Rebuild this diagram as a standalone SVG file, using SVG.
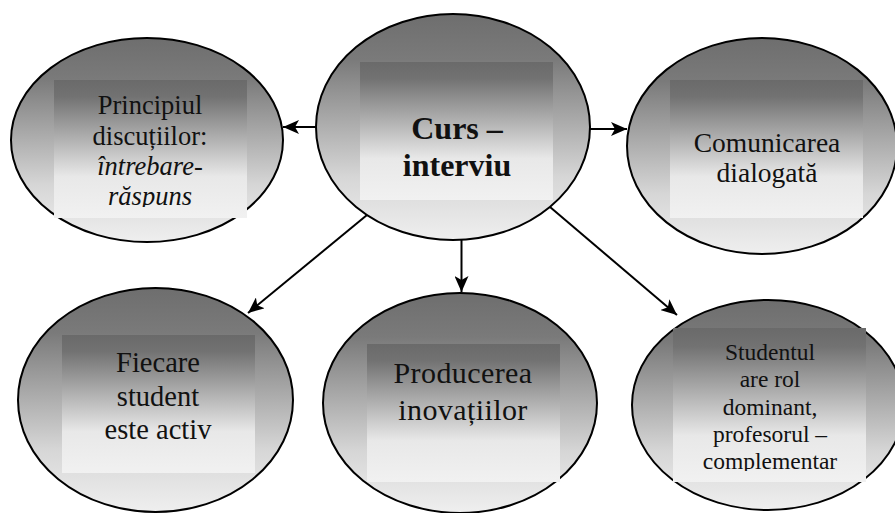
<svg xmlns="http://www.w3.org/2000/svg" width="895" height="513" viewBox="0 0 895 513">
<defs>
<linearGradient id="ge" x1="0" y1="0" x2="0" y2="1">
<stop offset="0" stop-color="#6e6e6e"/>
<stop offset="0.2" stop-color="#7a7a7a"/>
<stop offset="0.72" stop-color="#d6d6d6"/>
<stop offset="1" stop-color="#efefef"/>
</linearGradient>
<linearGradient id="gr" x1="0" y1="0" x2="0" y2="1">
<stop offset="0" stop-color="#6a6a6a"/>
<stop offset="0.12" stop-color="#727272"/>
<stop offset="0.7" stop-color="#e8e8e8"/>
<stop offset="1" stop-color="#f1f1f1"/>
</linearGradient>
<marker id="ah" markerUnits="userSpaceOnUse" markerWidth="18" markerHeight="14" refX="16" refY="7" orient="auto">
<path d="M0,0 L16,7 L0,14 L4,7 Z" fill="#000"/>
</marker>
<clipPath id="c1"><rect x="54" y="80" width="193" height="127"/></clipPath>
<clipPath id="c6"><rect x="673" y="328" width="193" height="143"/></clipPath>
</defs>
<style>
.el{fill:url(#ge);stroke:#000;stroke-width:2}
.bx{fill:url(#gr)}
text{fill:#111;text-anchor:middle}
.con{stroke:#000;stroke-width:2;fill:none;marker-end:url(#ah)}
</style>
<rect width="895" height="513" fill="#fff"/>
<g id="n1" font-family="Liberation Serif, serif">
<ellipse class="el" cx="147" cy="140" rx="136" ry="102"/>
<rect class="bx" x="54" y="80" width="193" height="138"/>
<g clip-path="url(#c1)" font-size="26.5">
<text x="150" y="114">Principiul</text>
<text x="150" y="145">discuțiilor:</text>
<text x="150" y="175" font-style="italic">întrebare-</text>
<text x="150" y="205" font-style="italic">răspuns</text>
</g>
</g>
<g id="n0" font-family="Liberation Serif, serif">
<ellipse class="el" cx="453" cy="127" rx="137" ry="113"/>
<rect class="bx" x="360" y="62" width="193" height="138"/>
<text font-size="32" font-weight="bold" x="457" y="139">Curs –</text>
<text font-size="32" font-weight="bold" x="457" y="176">interviu</text>
</g>
<g id="n2" font-family="Liberation Serif, serif">
<ellipse class="el" cx="762" cy="146" rx="135" ry="108"/>
<rect class="bx" x="670" y="80" width="193" height="138"/>
<text font-size="27.5" x="767" y="152">Comunicarea</text>
<text font-size="27.5" x="767" y="182">dialogată</text>
</g>
<g id="n3" font-family="Liberation Serif, serif">
<ellipse class="el" cx="155.5" cy="400" rx="137.5" ry="112"/>
<rect class="bx" x="62" y="335" width="193" height="138"/>
<text font-size="28.5" x="158" y="372">Fiecare</text>
<text font-size="28.5" x="158" y="406">student</text>
<text font-size="28.5" x="158" y="439">este activ</text>
</g>
<g id="n4" font-family="Liberation Serif, serif">
<ellipse class="el" cx="460" cy="403" rx="137" ry="110"/>
<rect class="bx" x="367" y="344" width="193" height="138"/>
<text font-size="30" letter-spacing="0.4" x="463" y="383">Producerea</text>
<text font-size="30" letter-spacing="0.4" x="463" y="420">inovațiilor</text>
</g>
<g id="n5" font-family="Liberation Serif, serif">
<ellipse class="el" cx="768" cy="405" rx="136" ry="105"/>
<rect class="bx" x="673" y="328" width="193" height="154"/>
<g clip-path="url(#c6)" font-size="23.5">
<text x="770" y="360">Studentul</text>
<text x="770" y="387">are rol</text>
<text x="770" y="415">dominant,</text>
<text x="770" y="442">profesorul –</text>
<text x="770" y="469">complementar</text>
</g>
<rect x="866" y="483" width="29" height="30" fill="#fff"/>
</g>
<g id="connectors">
<line class="con" x1="316" y1="127" x2="283" y2="127"/>
<line class="con" x1="590" y1="129" x2="627" y2="129"/>
<line class="con" x1="367" y1="215" x2="248" y2="313"/>
<line class="con" x1="461.5" y1="240" x2="461.5" y2="292"/>
<line class="con" x1="550" y1="207" x2="677" y2="315"/>
</g>
</svg>
